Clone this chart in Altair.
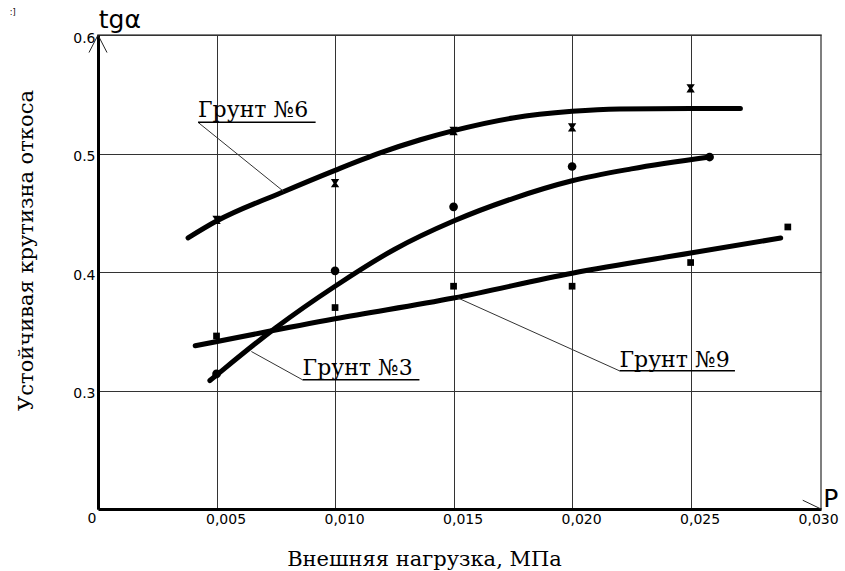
import altair as alt
import pandas as pd

# Measured points: external load P (MPa) vs. stable slope steepness tg(alpha)
g6_x = [0.005, 0.010, 0.015, 0.020, 0.025]
g6_y = [0.444, 0.475, 0.519, 0.522, 0.555]

g3_x = [0.005, 0.010, 0.015, 0.020, 0.0258]
g3_y = [0.314, 0.401, 0.455, 0.489, 0.497]

g9_x = [0.005, 0.010, 0.015, 0.020, 0.025, 0.0291]
g9_y = [0.346, 0.370, 0.388, 0.388, 0.408, 0.438]

# Smoothed trend curves
c6_x = [0.0038, 0.005, 0.0077, 0.010, 0.0119, 0.0136, 0.015, 0.0175, 0.020, 0.022, 0.025, 0.0271]
c6_y = [0.4288, 0.443, 0.4667, 0.4858, 0.5005, 0.5116, 0.5193, 0.530, 0.5356, 0.5376, 0.538, 0.538]

c3_x = [0.00472, 0.005, 0.0075, 0.010, 0.0125, 0.015, 0.0175, 0.020, 0.0225, 0.0258]
c3_y = [0.3084, 0.313, 0.353, 0.388, 0.419, 0.443, 0.462, 0.477, 0.487, 0.497]

c9_x = [0.0041, 0.010, 0.015, 0.020, 0.025, 0.0288]
c9_y = [0.3377, 0.3605, 0.378, 0.399, 0.416, 0.4287]

x_ticks = [0.005, 0.010, 0.015, 0.020, 0.025, 0.030]
y_ticks = [0.3, 0.4, 0.5, 0.6]

# Curve labels with underline and leader line
labels = ["Грунт №6", "Грунт №3", "Грунт №9"]
label_x = [0.00422, 0.00863, 0.0220]
label_y = [0.5312, 0.3128, 0.3202]
under_x2 = [0.00918, 0.01356, 0.02687]
under_y = [0.5263, 0.3090, 0.3166]
leader_x = [0.00783, 0.00647, 0.01517]
leader_y = [0.4680, 0.3329, 0.3782]

X_DOMAIN = [0, 0.0305]
Y_DOMAIN = [0.2, 0.6]

xs = alt.Scale(domain=X_DOMAIN, nice=False, zero=False)
ys = alt.Scale(domain=Y_DOMAIN, nice=False, zero=False)

x_axis = alt.Axis(
    values=x_ticks,
    labelExpr="replace(format(datum.value, '.3f'), '.', ',')",
    labelFont="DejaVu Sans", labelFontSize=14, labelColor="black",
    labelOffset=9, labelPadding=3, labelFlush=False, labelOverlap=False,
    ticks=False, domainColor="black", domainWidth=3,
    grid=True, gridColor="#333", gridWidth=1,
    gridOpacity=alt.condition("datum.value > 0.028", alt.value(0), alt.value(1)),
    title="Внешняя нагрузка, МПа", titleFont="DejaVu Serif", titleFontSize=21,
    titleFontWeight="normal", titleColor="black",
    titleX=326, titleY=56, titleAlign="center", titleBaseline="alphabetic",
)
y_axis = alt.Axis(
    values=y_ticks,
    labelExpr="format(datum.value, '.1f')",
    labelFont="DejaVu Sans", labelFontSize=14, labelColor="black",
    labelOffset=3, labelPadding=3, labelFlush=False, labelOverlap=False,
    ticks=False, domainColor="black", domainWidth=3,
    grid=True, gridColor="#333", gridWidth=1,
    title="Устойчивая крутизна откоса", titleFont="DejaVu Serif", titleFontSize=21,
    titleFontWeight="normal", titleColor="black", titleAngle=270,
    titleX=-66, titleY=215, titleAlign="center", titleBaseline="alphabetic",
)

def frame(x_list, y_list):
    return pd.DataFrame({"x": x_list, "y": y_list})

base_axes = alt.Chart(frame([0], [0.2])).mark_point(opacity=0).encode(
    x=alt.X("x:Q", scale=xs, axis=x_axis),
    y=alt.Y("y:Q", scale=ys, axis=y_axis),
)

def curve(xv, yv):
    return alt.Chart(frame(xv, yv)).mark_line(
        color="black", strokeWidth=5, interpolate="monotone", strokeCap="round"
    ).encode(x=alt.X("x:Q", scale=xs), y=alt.Y("y:Q", scale=ys), order="x:Q")

def points(xv, yv, shape, size):
    return alt.Chart(frame(xv, yv)).mark_point(
        shape=shape, filled=True, color="black", size=size, opacity=1
    ).encode(x=alt.X("x:Q", scale=xs), y=alt.Y("y:Q", scale=ys))

bowtie = "M-1,-1L1,-1L0.35,0L1,1L-1,1L-0.35,0Z"

ann = pd.DataFrame({
    "label": labels, "x": label_x, "y": label_y,
    "ux2": under_x2, "uy": under_y, "lx": leader_x, "ly": leader_y,
})

texts = alt.Chart(ann).mark_text(
    align="left", baseline="alphabetic", font="DejaVu Serif", fontSize=22, color="black"
).encode(x=alt.X("x:Q", scale=xs), y=alt.Y("y:Q", scale=ys), text="label:N")

underlines = alt.Chart(ann).mark_rule(color="black", strokeWidth=1.5).encode(
    x=alt.X("x:Q", scale=xs), x2="ux2:Q", y=alt.Y("uy:Q", scale=ys), y2="uy:Q"
)
leaders = alt.Chart(ann).mark_rule(color="#333", strokeWidth=1).encode(
    x=alt.X("x:Q", scale=xs), x2="lx:Q", y=alt.Y("uy:Q", scale=ys), y2="ly:Q"
)

# Axis arrowheads
arrows = pd.DataFrame({
    "x": [-0.00038, 0.00038, 0.02973],
    "y": [0.5852, 0.5852, 0.2074],
    "x2": [0.0, 0.0, 0.0305],
    "y2": [0.6, 0.6, 0.2],
})
arrow_rules = alt.Chart(arrows).mark_rule(color="#222", strokeWidth=1).encode(
    x=alt.X("x:Q", scale=xs), x2="x2:Q", y=alt.Y("y:Q", scale=ys), y2="y2:Q"
)

axis_names = pd.DataFrame({
    "t": ["tgα", "P"], "x": [0.00003, 0.0306], "y": [0.6063, 0.2017],
})
axis_name_text = alt.Chart(axis_names).mark_text(
    align="left", baseline="alphabetic", font="DejaVu Sans", fontSize=25, color="black"
).encode(x=alt.X("x:Q", scale=xs), y=alt.Y("y:Q", scale=ys), text="t:N")

origin = alt.Chart(pd.DataFrame({"x": [0.0], "y": [0.2], "t": ["0"]})).mark_text(
    align="center", baseline="top", font="DejaVu Sans", fontSize=14, color="black",
    dx=-6, dy=3,
).encode(x=alt.X("x:Q", scale=xs), y=alt.Y("y:Q", scale=ys), text="t:N")

corner = alt.Chart(pd.DataFrame({"x": [-0.00372], "y": [0.6183], "t": [":]"]})).mark_text(
    align="left", baseline="middle", font="DejaVu Sans", fontSize=8, color="black"
).encode(x=alt.X("x:Q", scale=xs), y=alt.Y("y:Q", scale=ys), text="t:N")

chart = alt.layer(
    base_axes,
    curve(c6_x, c6_y), curve(c3_x, c3_y), curve(c9_x, c9_y),
    points(g6_x, g6_y, bowtie, 70),
    points(g3_x, g3_y, "circle", 75),
    points(g9_x, g9_y, "square", 45),
    leaders, underlines, texts,
    arrow_rules, axis_name_text, origin, corner,
).properties(
    width=723, height=474,
    padding={"left": 98, "top": 35, "right": 24, "bottom": 62},
    autosize=alt.AutoSizeParams(type="none"),
    background="white",
).configure_view(stroke="#555", strokeWidth=1.5)

chart.save("out.html", embed_options={"renderer": "svg", "actions": False})
